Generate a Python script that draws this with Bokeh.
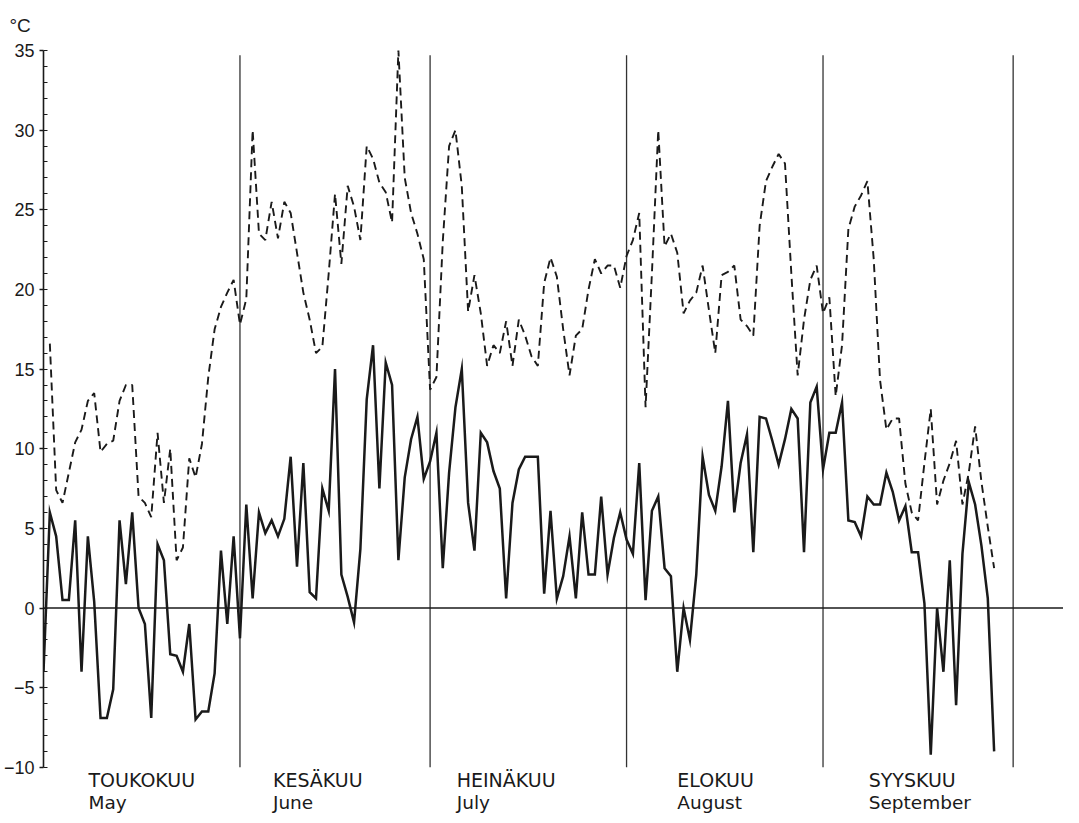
import numpy as np
from bokeh.plotting import figure
from bokeh.models import Range1d, FixedTicker, Span, Title
from bokeh.embed import file_html
from bokeh.resources import INLINE
from bokeh.core.properties import value

# ---------------- data ----------------
months_fi = ["TOUKOKUU", "KESÄKUU", "HEINÄKUU", "ELOKUU", "SYYSKUU"]
months_en = ["May", "June", "July", "August", "September"]
month_days = [31, 30, 31, 31, 30]

# daily minimum temperature (solid line), °C
tmin_may = [-4.0, 6.0, 4.5, 0.5, 0.5, 5.5, -4.0, 4.5, 0.4, -6.9, -6.9, -5.1, 5.5, 1.5, 6.0, 0.0,
            -1.0, -6.9, 4.0, 3.0, -2.9, -3.0, -4.0, -1.0, -7.0, -6.5, -6.5, -4.1, 3.6, -1.0, 4.5]
tmin_jun = [-1.9, 6.5, 0.6, 6.0, 4.7, 5.5, 4.5, 5.6, 9.5, 2.6, 9.1, 1.0, 0.6, 7.5, 6.1, 15.0,
            2.1, 0.7, -0.9, 3.7, 13.1, 16.5, 7.5, 15.4, 14.0, 3.0, 8.2, 10.6, 12.0, 8.1]
tmin_jul = [9.2, 11.0, 2.5, 8.5, 12.6, 15.0, 6.6, 3.6, 11.0, 10.4, 8.6, 7.5, 0.6, 6.6, 8.7, 9.5,
            9.5, 9.5, 0.9, 6.1, 0.6, 2.0, 4.5, 0.6, 6.0, 2.1, 2.1, 7.0, 2.1, 4.4, 6.0]
tmin_aug = [4.3, 3.4, 9.1, 0.5, 6.1, 7.0, 2.5, 2.0, -4.0, 0.0, -2.0, 2.1, 9.5, 7.1, 6.1, 8.9,
            13.0, 6.0, 9.1, 10.9, 3.5, 12.0, 11.9, 10.5, 9.0, 10.6, 12.5, 11.9, 3.5, 12.9, 13.9]
tmin_sep = [8.7, 11.0, 11.0, 12.9, 5.5, 5.4, 4.5, 7.0, 6.5, 6.5, 8.5, 7.3, 5.5, 6.4, 3.5, 3.5,
            0.3, -9.2, 0.0, -4.0, 3.0, -6.1, 3.4, 7.9, 6.5, 3.9, 0.6, -9.0]

# daily maximum temperature (dashed line), °C
tmax_may = [float("nan"), 16.6, 7.4, 6.6, 8.5, 10.4, 11.2, 13.0, 13.5, 9.8, 10.3, 10.5, 13.0, 14.0,
            14.0, 7.0, 6.6, 5.7, 11.0, 6.6, 10.0, 3.0, 3.8, 9.4, 8.2, 10.3, 14.5, 17.5, 18.9, 19.8, 20.6]
tmax_jun = [17.8, 19.4, 30.0, 23.5, 23.1, 25.5, 23.2, 25.5, 24.8, 22.3, 19.8, 18.1, 16.0, 16.4,
            21.0, 26.0, 21.6, 26.5, 25.2, 23.1, 29.0, 28.2, 26.7, 26.1, 24.2, 35.0, 27.0, 24.8, 23.5, 21.9]
tmax_jul = [13.7, 14.5, 23.0, 29.0, 30.0, 26.5, 18.6, 20.9, 18.5, 15.2, 16.5, 16.0, 18.0, 15.2,
            18.1, 17.1, 15.8, 15.2, 20.4, 22.0, 20.8, 17.5, 14.6, 17.1, 17.5, 20.0, 21.9, 21.0, 21.5, 21.5, 20.1]
tmax_aug = [22.1, 23.1, 24.8, 12.6, 21.0, 30.0, 22.7, 23.5, 22.3, 18.5, 19.3, 19.8, 21.5, 18.7,
            16.0, 20.9, 21.1, 21.5, 18.1, 17.7, 17.1, 24.0, 26.8, 27.7, 28.5, 27.9, 21.0, 14.6, 18.1, 20.6, 21.5]
tmax_sep = [18.5, 19.5, 13.3, 16.5, 23.8, 25.2, 25.9, 26.8, 21.9, 14.3, 11.2, 11.9, 11.9, 7.8,
            6.0, 5.5, 9.1, 12.5, 6.5, 8.0, 9.1, 10.5, 6.5, 8.5, 11.4, 7.9, 5.1, 2.5]

y_ticks = [-10, -5, 0, 5, 10, 15, 20, 25, 30, 35]

# ---------------- build ----------------
tmin = np.array(tmin_may + tmin_jun + tmin_jul + tmin_aug + tmin_sep, dtype=float)
tmax = np.array(tmax_may + tmax_jun + tmax_jul + tmax_aug + tmax_sep, dtype=float)
days_min = np.arange(len(tmin))
days_max = np.arange(len(tmax))

month_start = np.concatenate([[0], np.cumsum(month_days)[:-1]])
month_end = np.cumsum(month_days)

# layout
label_offset = [7.1, 5.2, 4.2, 8.0, 7.2]
W, H = 1063, 815
left_border = 41
top_border = 46
px_per_day = 6.35
px_per_deg = 15.93
x_max = (W - left_border) / px_per_day
y_top = 35.25
y_bot = y_top - (H - top_border) / px_per_deg

p = figure(width=W, height=H, x_range=Range1d(0, x_max), y_range=Range1d(y_bot, y_top),
           output_backend="svg", toolbar_location=None, x_axis_location=None,
           min_border_left=left_border, min_border_right=0, min_border_top=top_border,
           min_border_bottom=0)
p.title = Title(text="°C", align="left", offset=-34, text_font="Liberation Sans",
                text_font_size="19px", text_font_style="normal", text_color="#1a1a1a",
                standoff=21)
p.outline_line_color = None
p.xgrid.visible = False
p.ygrid.visible = False
p.background_fill_color = "white"
p.border_fill_color = "white"

ax = p.yaxis[0]
ax.bounds = (-10, 35)
ax.ticker = FixedTicker(ticks=y_ticks, minor_ticks=list(range(-10, 36)))
ax.axis_line_color = "#1a1a1a"
ax.axis_line_width = 1.6
ax.major_tick_line_color = "#1a1a1a"
ax.major_tick_line_width = 1.5
ax.major_tick_out = 4
ax.major_tick_in = 0
ax.minor_tick_line_color = "#1a1a1a"
ax.minor_tick_line_width = 1.2
ax.minor_tick_in = 4
ax.minor_tick_out = 0
ax.major_label_text_font = "Liberation Sans"
ax.major_label_text_font_size = "18px"
ax.major_label_text_color = "#1a1a1a"
ax.major_label_standoff = 5

# month separators
p.segment(x0=month_end, y0=-10, x1=month_end, y1=34.7, line_color="#333333", line_width=1.3)
# zero line
p.add_layout(Span(location=0, dimension="width", line_color="#1a1a1a", line_width=1.6))

# data lines
p.line(days_max, tmax, line_color="#1a1a1a", line_width=1.9, line_dash="8 5")
p.line(days_min, tmin, line_color="#1a1a1a", line_width=2.5, line_join="miter")

# month labels
lx = month_start + np.array(label_offset)
p.text(x=lx, y=[-10.79] * 5, text=months_fi, text_align="left", text_baseline="middle",
       text_font=value("DejaVu Sans"), text_font_size=value("19px"), text_color="#1a1a1a")
p.text(x=lx, y=[-12.22] * 5, text=months_en, text_align="left", text_baseline="middle",
       text_font=value("DejaVu Sans"), text_font_size=value("18.5px"), text_color="#1a1a1a")

open("out.html", "w").write(file_html(p, INLINE))
